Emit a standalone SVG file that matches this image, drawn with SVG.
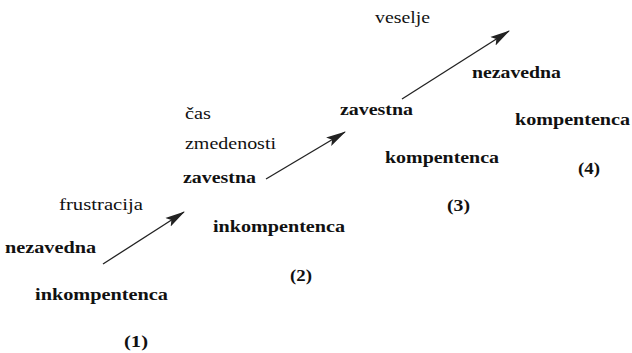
<svg xmlns="http://www.w3.org/2000/svg" width="632" height="353" viewBox="0 0 632 353">
<defs>
<style>
text{font-family:"Liberation Serif","Times New Roman","DejaVu Serif",serif;font-size:17px;fill:#111}
.b{font-weight:bold}
.c line{stroke:#222;stroke-width:1.3}
</style>
<marker id="ah" viewBox="0 0 20 12" refX="19" refY="6" markerWidth="20" markerHeight="12" markerUnits="userSpaceOnUse" orient="auto">
<path d="M0,1 L20,6 L0,11 L4,6 Z" fill="#222"/>
</marker>
</defs>
<rect width="632" height="353" fill="#fff"/>
<g class="c" id="connectors">
<line x1="103" y1="264" x2="184" y2="212" marker-end="url(#ah)"/>
<line x1="266" y1="179" x2="345" y2="132" marker-end="url(#ah)"/>
<line x1="402" y1="99" x2="509" y2="31" marker-end="url(#ah)"/>
</g>
<g id="stage1">
<text x="59" y="210" textLength="84" lengthAdjust="spacingAndGlyphs">frustracija</text>
<text class="b" x="5" y="253" textLength="91" lengthAdjust="spacingAndGlyphs">nezavedna</text>
<text class="b" x="35" y="300" textLength="133" lengthAdjust="spacingAndGlyphs">inkompentenca</text>
<text class="b" x="124" y="347" textLength="24" lengthAdjust="spacingAndGlyphs">(1)</text>
</g>
<g id="stage2">
<text x="185" y="119" textLength="26" lengthAdjust="spacingAndGlyphs">čas</text>
<text x="185" y="149" textLength="91" lengthAdjust="spacingAndGlyphs">zmedenosti</text>
<text class="b" x="183" y="183" textLength="73" lengthAdjust="spacingAndGlyphs">zavestna</text>
<text class="b" x="213" y="232" textLength="132" lengthAdjust="spacingAndGlyphs">inkompentenca</text>
<text class="b" x="290" y="281" textLength="22" lengthAdjust="spacingAndGlyphs">(2)</text>
</g>
<g id="stage3">
<text x="375" y="23" textLength="55" lengthAdjust="spacingAndGlyphs">veselje</text>
<text class="b" x="340" y="115" textLength="73" lengthAdjust="spacingAndGlyphs">zavestna</text>
<text class="b" x="385" y="163" textLength="114" lengthAdjust="spacingAndGlyphs">kompentenca</text>
<text class="b" x="447" y="211" textLength="23" lengthAdjust="spacingAndGlyphs">(3)</text>
</g>
<g id="stage4">
<text class="b" x="472" y="78" textLength="89" lengthAdjust="spacingAndGlyphs">nezavedna</text>
<text class="b" x="515" y="125" textLength="115" lengthAdjust="spacingAndGlyphs">kompentenca</text>
<text class="b" x="578" y="174" textLength="22" lengthAdjust="spacingAndGlyphs">(4)</text>
</g>
</svg>
